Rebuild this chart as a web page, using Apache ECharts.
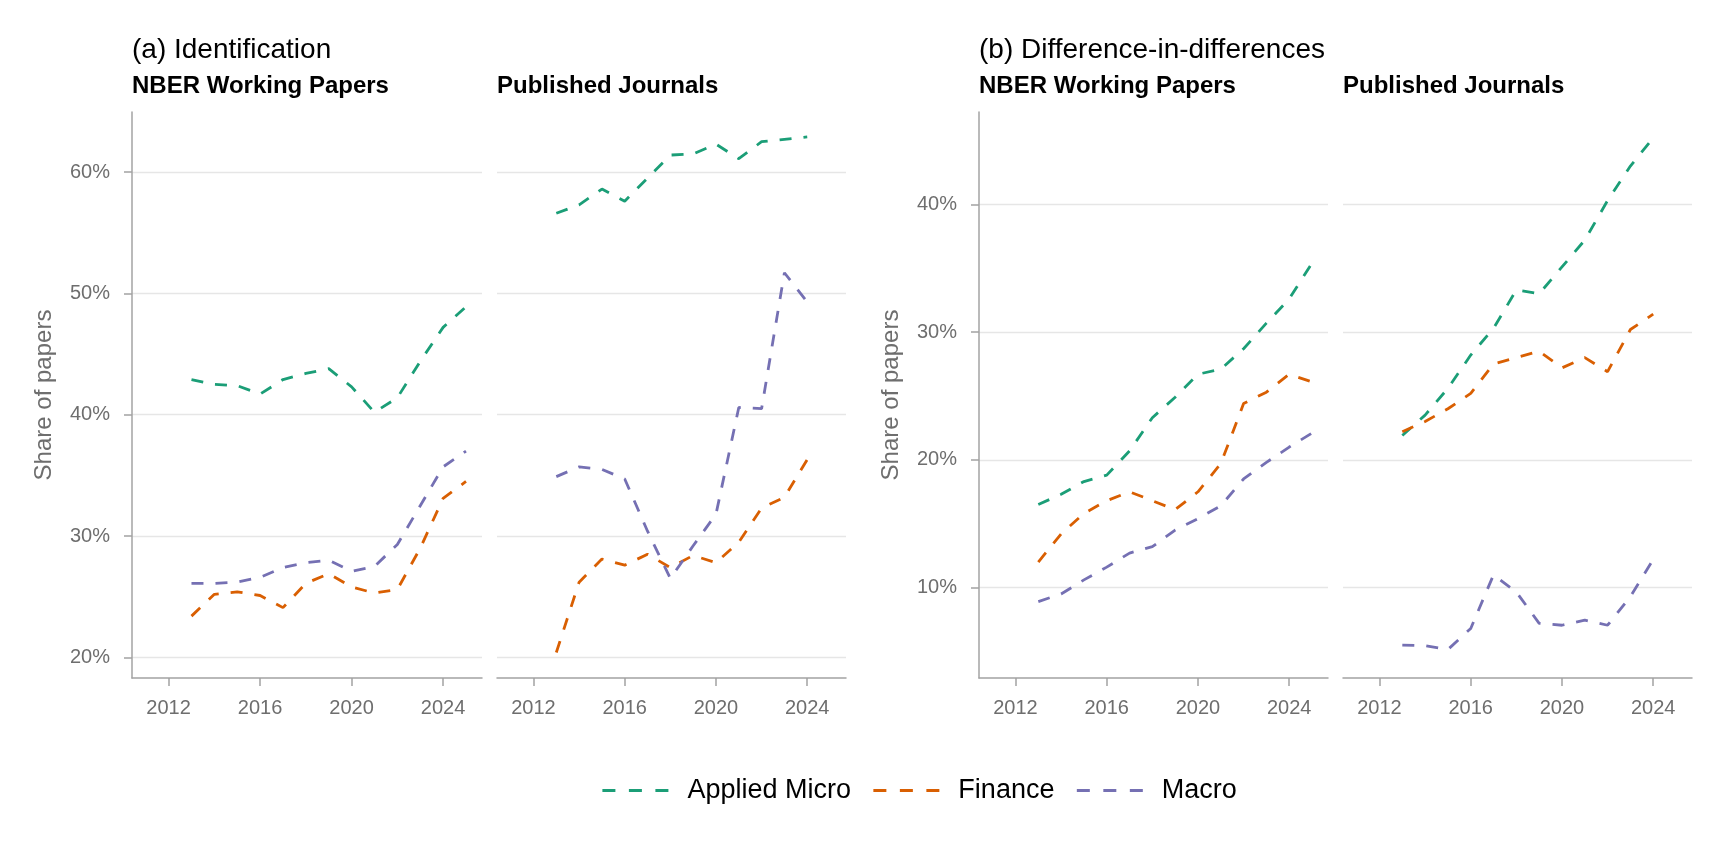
<!DOCTYPE html>
<html>
<head>
<meta charset="utf-8">
<script src="https://cdn.jsdelivr.net/npm/echarts/dist/echarts.min.js"></script>
<style>
  html, body { margin: 0; padding: 0; background: #fff; }
  #chart { width: 1728px; height: 864px; }
</style>
</head>
<body>
<div id="chart"></div>
<script>
// years
const yearsNber = [2013, 2014, 2015, 2016, 2017, 2018, 2019, 2020, 2021, 2022, 2023, 2024, 2025];
const yearsPub = [2013, 2014, 2015, 2016, 2017, 2018, 2019, 2020, 2021, 2022, 2023, 2024];

// (a) Identification, share of papers (%)
const idNberMicro = [42.9, 42.5, 42.4, 41.7, 42.9, 43.4, 43.8, 42.3, 40.2, 41.4, 44.4, 47.2, 48.9];
const idNberFinance = [23.4, 25.2, 25.4, 25.1, 24.1, 26.1, 26.9, 25.8, 25.3, 25.6, 29.0, 33.1, 34.5];
const idNberMacro = [26.1, 26.1, 26.2, 26.6, 27.4, 27.8, 28.0, 27.1, 27.5, 29.3, 32.5, 35.7, 37.0];
const idPubMicro = [56.6, 57.3, 58.6, 57.6, 59.5, 61.4, 61.5, 62.3, 61.1, 62.5, 62.7, 62.9];
const idPubFinance = [20.4, 26.2, 28.1, 27.6, 28.5, 27.4, 28.4, 27.8, 29.5, 32.3, 33.2, 36.3];
const idPubMacro = [34.9, 35.7, 35.5, 34.7, 30.4, 26.5, 29.2, 31.8, 40.6, 40.5, 51.7, 49.3];

// (b) Difference-in-differences, share of papers (%)
const didNberMicro = [16.5, 17.3, 18.3, 18.8, 20.7, 23.3, 24.9, 26.7, 27.1, 28.7, 30.7, 32.6, 35.4];
const didNberFinance = [12.0, 14.2, 15.8, 16.8, 17.5, 16.8, 16.1, 17.5, 19.7, 24.4, 25.3, 26.7, 26.1];
const didNberMacro = [8.9, 9.5, 10.6, 11.6, 12.7, 13.2, 14.5, 15.4, 16.4, 18.5, 19.8, 21.0, 22.1];
const didPubMicro = [21.9, 23.5, 25.6, 28.2, 30.3, 33.3, 33.0, 35.1, 37.2, 40.3, 43.0, 45.2];
const didPubFinance = [22.2, 23.0, 24.0, 25.2, 27.5, 28.0, 28.5, 27.2, 28.0, 26.9, 30.2, 31.4];
const didPubMacro = [5.5, 5.45, 5.15, 6.8, 11.0, 9.65, 7.2, 7.05, 7.45, 7.05, 9.3, 12.2];

const fields = ['Applied Micro', 'Finance', 'Macro'];
const xTicks = [2012, 2016, 2020, 2024];
const yTicksId = [20, 30, 40, 50, 60];
const yTicksDid = [10, 20, 30, 40];

const colors = { 'Applied Micro': '#1B9E77', 'Finance': '#D95F02', 'Macro': '#7570B3' };
const font = "'Liberation Sans', Arial, sans-serif";
const axisGrey = '#a3a3a3';
const labelGrey = '#6e6e6e';
const gridGrey = '#e6e6e6';

const panels = [
  { left: 132, width: 350, years: yearsNber, data: [idNberMicro, idNberFinance, idNberMacro], ymin: 18.3, ymax: 64.95, ticks: yTicksId, showY: true },
  { left: 497, width: 349, years: yearsPub, data: [idPubMicro, idPubFinance, idPubMacro], ymin: 18.3, ymax: 64.95, ticks: yTicksId, showY: false },
  { left: 979, width: 349, years: yearsNber, data: [didNberMicro, didNberFinance, didNberMacro], ymin: 2.92, ymax: 47.23, ticks: yTicksDid, showY: true },
  { left: 1343, width: 349, years: yearsPub, data: [didPubMicro, didPubFinance, didPubMacro], ymin: 2.92, ymax: 47.23, ticks: yTicksDid, showY: false }
];

const grid = [], xAxis = [], yAxis = [], series = [];
panels.forEach((p, i) => {
  grid.push({ left: p.left, top: 112, width: p.width, height: 566 });
  xAxis.push({
    type: 'value', gridIndex: i, min: 2010.4, max: 2025.7,
    axisLine: { show: true, onZero: false, lineStyle: { color: axisGrey, width: 1.5 } },
    axisTick: { show: true, length: 8, customValues: xTicks, lineStyle: { color: axisGrey, width: 1.5 } },
    axisLabel: { customValues: xTicks, margin: 20, color: labelGrey, fontSize: 20, fontFamily: font, formatter: v => String(v) },
    splitLine: { show: false }
  });
  yAxis.push({
    type: 'value', gridIndex: i, min: p.ymin, max: p.ymax,
    name: p.showY ? 'Share of papers' : '',
    nameLocation: 'middle', nameGap: 76, nameRotate: 90,
    nameTextStyle: { color: labelGrey, fontSize: 24, fontFamily: font },
    axisLine: { show: p.showY, onZero: false, lineStyle: { color: axisGrey, width: 1.5 } },
    axisTick: { show: p.showY, length: 8, customValues: p.ticks, lineStyle: { color: axisGrey, width: 1.5 } },
    axisLabel: { show: p.showY, customValues: p.ticks, margin: 22, color: labelGrey, fontSize: 20, fontFamily: font, formatter: v => v + '%' },
    splitLine: { show: true, lineStyle: { color: gridGrey, width: 1.3 } }
  });
  fields.forEach((f, k) => {
    series.push({
      name: f, type: 'line', xAxisIndex: i, yAxisIndex: i,
      symbol: 'none', animation: false,
      data: p.years.map((y, j) => [y, p.data[k][j]]),
      lineStyle: { color: colors[f], width: 2.8, type: [12, 12] },
      itemStyle: { color: colors[f] }
    });
  });
});

const titleStyle = { fontSize: 28, fontWeight: 'normal', color: '#000', fontFamily: font };
const stripStyle = { fontSize: 24, fontWeight: 'bold', color: '#000', fontFamily: font };

const chart = echarts.init(document.getElementById('chart'));
chart.setOption({
  animation: false,
  title: [
    { text: '(a) Identification', left: 132, top: 36, padding: 0, textStyle: titleStyle },
    { text: 'NBER Working Papers', left: 132, top: 74, padding: 0, textStyle: stripStyle },
    { text: 'Published Journals', left: 497, top: 74, padding: 0, textStyle: stripStyle },
    { text: '(b) Difference-in-differences', left: 979, top: 36, padding: 0, textStyle: titleStyle },
    { text: 'NBER Working Papers', left: 979, top: 74, padding: 0, textStyle: stripStyle },
    { text: 'Published Journals', left: 1343, top: 74, padding: 0, textStyle: stripStyle }
  ],
  legend: {
    data: fields, left: 601, top: 777, padding: 0,
    itemWidth: 66, itemHeight: 20, itemGap: 21,
    itemStyle: { opacity: 0, borderWidth: 0 },
    lineStyle: { type: [13, 13.5], width: 2.8 },
    textStyle: { fontSize: 27, color: '#000', fontFamily: font, padding: [0, 0, 0, 14] }
  },
  grid: grid,
  xAxis: xAxis,
  yAxis: yAxis,
  series: series
});
</script>
</body>
</html>
